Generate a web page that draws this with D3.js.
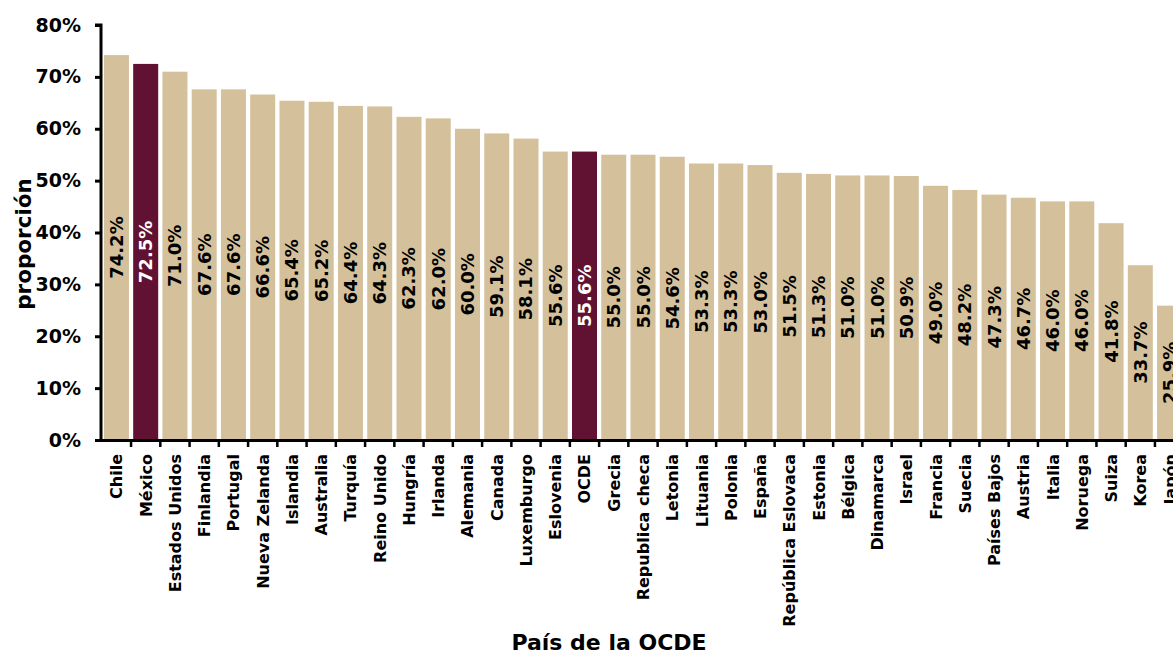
<!DOCTYPE html>
<html><head><meta charset="utf-8">
<script src="https://cdn.jsdelivr.net/npm/d3@7"></script>
<style>
html,body{margin:0;padding:0;background:#fff;overflow:hidden}
text{font-family:"DejaVu Sans",sans-serif;font-weight:700}
</style></head>
<body><svg id="c" width="1173" height="652"></svg>
<script>
const countries = ["Chile","México","Estados Unidos","Finlandia","Portugal","Nueva Zelanda","Islandia","Australia","Turquía","Reino Unido","Hungría","Irlanda","Alemania","Canada","Luxemburgo","Eslovenia","OCDE","Grecia","Republica checa","Letonia","Lituania","Polonia","España","República Eslovaca","Estonia","Bélgica","Dinamarca","Israel","Francia","Suecia","Países Bajos","Austria","Italia","Noruega","Suiza","Korea","Japón"];
const values = [74.2,72.5,71.0,67.6,67.6,66.6,65.4,65.2,64.4,64.3,62.3,62.0,60.0,59.1,58.1,55.6,55.6,55.0,55.0,54.6,53.3,53.3,53.0,51.5,51.3,51.0,51.0,50.9,49.0,48.2,47.3,46.7,46.0,46.0,41.8,33.7,25.9];
const highlighted = ["México","OCDE"];
const yTicks = [0,10,20,30,40,50,60,70,80];

const svg = d3.select("#c");
const x0 = 101, y0 = 440, yTop = 25;
const x = d3.scaleBand().domain(countries).range([x0, 1185]).paddingInner(0.145).paddingOuter(0.1);
const y = d3.scaleLinear().domain([0,80]).range([y0, yTop]);

const data = countries.map((c,i)=>({c, v: values[i], hl: highlighted.includes(c)}));

svg.selectAll("rect.bar").data(data).enter().append("rect")
  .attr("class","bar")
  .attr("x", d=>x(d.c)).attr("width", x.bandwidth())
  .attr("y", d=>y(d.v)).attr("height", d=>y0 - y(d.v))
  .attr("fill", d=>d.hl ? "#611232" : "#D4C19C");

// value labels
svg.selectAll("text.val").data(data).enter().append("text")
  .attr("class","val")
  .attr("transform", d=>`translate(${x(d.c)+x.bandwidth()/2+6.5},${(y(d.v)+y0)/2}) rotate(-90)`)
  .attr("text-anchor","middle")
  .attr("font-size", 18)
  .attr("fill", d=>d.hl ? "#fff" : "#000")
  .text(d=>d.v.toFixed(1)+"%");

// y axis
const yAxis = d3.axisLeft(y).tickValues(yTicks).tickFormat(d=>d+"%").tickSize(6).tickPadding(14);
const gy = svg.append("g").attr("transform",`translate(${x0},0)`).call(yAxis);
gy.select(".domain").attr("stroke","#000").attr("stroke-width",3).attr("d",`M-6,${yTop}H0V${y0+1.5}`);
gy.selectAll(".tick line").attr("stroke","#000").attr("stroke-width",3);
gy.selectAll(".tick text").attr("font-size",19).attr("fill","#000").style("font-family","'DejaVu Sans',sans-serif").style("font-weight",700);

// x axis line
svg.append("line").attr("x1",x0-1.5).attr("x2",1173).attr("y1",y0+0.5).attr("y2",y0+0.5).attr("stroke","#000").attr("stroke-width",3);
// x tick marks at bar boundaries
const bounds = countries.slice(1).map(c=>x(c) - (x.step()-x.bandwidth())/2);
svg.selectAll("line.xt").data(bounds).enter().append("line")
  .attr("x1",d=>d).attr("x2",d=>d).attr("y1",y0).attr("y2",y0+7)
  .attr("stroke","#000").attr("stroke-width",2.5);

// x labels
svg.selectAll("text.xl").data(countries).enter().append("text")
  .attr("transform", c=>`translate(${x(c)+x.bandwidth()/2+6},454) rotate(-90)`)
  .attr("text-anchor","end")
  .attr("font-size",16)
  .attr("fill","#000")
  .text(c=>c);

// axis titles
svg.append("text").attr("x",609).attr("y",650).attr("text-anchor","middle").attr("font-size",22).text("País de la OCDE");
svg.append("text").attr("transform","translate(31,244) rotate(-90)").attr("text-anchor","middle").attr("font-size",21.5).text("proporción");
</script></body></html>
